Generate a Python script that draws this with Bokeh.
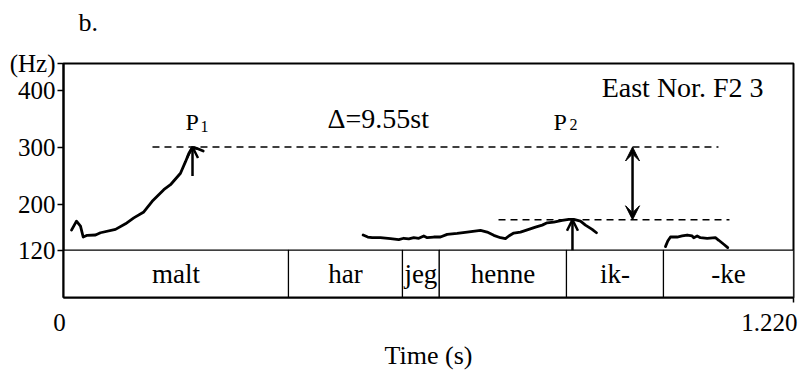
from bokeh.plotting import figure
from bokeh.models import Range1d, FixedTicker, Label, Arrow, OpenHead, VeeHead, ColumnDataSource
from bokeh.embed import file_html
from bokeh.resources import INLINE
from bokeh.core.properties import value

FONT = "Liberation Serif"

# ---------------- data ----------------
# F0 contour on "malt"
t_malt = [0.0134, 0.0217, 0.0284, 0.0329, 0.0396, 0.0535, 0.0618, 0.0869, 0.1036,
          0.1175, 0.1342, 0.1482, 0.1676, 0.1788, 0.1955, 0.2039, 0.2094, 0.2151,
          0.2234, 0.2335]
f_malt = [155.3, 171.0, 162.3, 143.1, 146.1, 146.6, 150.6, 156.5, 166.3,
          176.7, 187.1, 205.7, 226.1, 234.8, 255.0, 275.3, 289.7, 299.7,
          298.4, 293.9]
# F0 contour on "har jeg henne ik-"
t_mid = [0.5008, 0.5085, 0.5159, 0.5297, 0.5465, 0.5603, 0.5687, 0.5771, 0.5854,
         0.5938, 0.6021, 0.6078, 0.6188, 0.6300, 0.6412, 0.6579, 0.6746, 0.6969,
         0.7080, 0.7191, 0.7303, 0.7386, 0.7442, 0.7525, 0.7637, 0.7776, 0.7888,
         0.8000, 0.8083, 0.8194, 0.8334, 0.8445, 0.8528, 0.8640, 0.8723, 0.8835,
         0.8907]
f_mid = [146.6, 143.1, 141.9, 141.9, 140.2, 138.4, 140.9, 139.7, 141.9,
         140.9, 144.9, 141.9, 143.1, 143.1, 147.8, 149.6, 151.8, 154.8,
         151.8, 146.1, 141.9, 140.2, 144.9, 150.1, 151.8, 156.5, 160.5,
         164.0, 168.0, 169.2, 172.2, 173.9, 173.9, 171.0, 164.0, 156.5,
         150.6]
# F0 contour on "-ke"
t_ke = [1.0060, 1.0099, 1.0144, 1.0256, 1.0339, 1.0423, 1.0506, 1.0533, 1.0590,
        1.0645, 1.0757, 1.0895, 1.0951, 1.1034, 1.1101]
f_ke = [126.3, 136.2, 143.1, 143.1, 144.9, 146.6, 144.9, 141.9, 144.9,
        141.9, 140.9, 141.9, 137.4, 130.4, 124.5]

# peaks
p1_time, p1_hz, p1_arrow_from = 0.2156, 301.0, 250.0
p2_time, p2_hz, p2_arrow_from = 0.8506, 173.4, 120.0
p1_line = [0.1487, 1.0946]
p2_line = [0.727, 1.113]
delta_time = 0.951
delta_text = "Δ=9.55st"

# word tier
words = ["malt", "har", "jeg", "henne", "ik-", "-ke"]
word_bounds = [0.0, 0.376, 0.5665, 0.628, 0.8406, 1.0027, 1.22]

# axes
y_ticks = [120, 200, 300, 400]
y_tick_labels = ["120", "200", "300", "400"]
y_unit_label = "(Hz)"
x_ticks = [0.0, 1.22]
x_tick_labels = ["0", "1.220"]
x_min, x_max = 0.0, 1.22
y_min, y_max = 37.0, 447.5
tier_top = 120.0

# ---------------- figure ----------------
p = figure(width=804, height=372, x_range=Range1d(x_min, x_max), y_range=Range1d(y_min, y_max),
           output_backend="svg", toolbar_location=None,
           min_border_left=63, min_border_right=11, min_border_top=61, min_border_bottom=75)
p.grid.visible = False
p.outline_line_color = "black"
p.outline_line_width = 2
p.background_fill_color = "white"
p.border_fill_color = "white"

# y axis (unit label sits at the top of the axis)
ya = p.yaxis[0]
ya.ticker = FixedTicker(ticks=y_ticks + [y_max], minor_ticks=[])
ov = {v: s for v, s in zip(y_ticks, y_tick_labels)}
ov[y_max] = y_unit_label
ya.major_label_overrides = ov
ya.axis_line_color = "black"
ya.axis_line_width = 2
ya.major_tick_in = 0
ya.major_tick_out = 6
ya.major_tick_line_width = 1.5
ya.major_label_standoff = 2
ya.major_label_text_font = FONT
ya.major_label_text_font_size = "25px"
ya.major_label_text_color = "black"

# x axis
xa = p.xaxis[0]
xa.ticker = FixedTicker(ticks=[], minor_ticks=[x_ticks[-1]])
xa.axis_line_color = "black"
xa.axis_line_width = 2
xa.major_tick_in = 0
xa.major_tick_out = 0
xa.minor_tick_in = 0
xa.minor_tick_out = 5
xa.minor_tick_line_width = 1.5
xa.major_label_standoff = 0
xa.axis_label = "Time (s)"
xa.axis_label_text_font = FONT
xa.axis_label_text_font_size = "26px"
xa.axis_label_text_font_style = "normal"
xa.axis_label_text_color = "black"
xa.axis_label_standoff = 38

# labels outside the frame: kept in the (roomy) top side panel so they are not clipped;
# their positions are still given in data coordinates
aligns = ["center", "right"]
offsets = [-4, 4]
for v, s, al, off in zip(x_ticks, x_tick_labels, aligns, offsets):
    p.add_layout(Label(x=v, y=-6.4, text=s, text_align=al, text_baseline="middle", x_offset=off,
                       text_font=FONT, text_font_size="25px", text_color="black"), "above")

p.add_layout(Label(x=0.025, y=520.2, text="b.", text_align="left", text_baseline="middle",
                   text_font=FONT, text_font_size="26px", text_color="black"), "above")

# word tier
p.quad(left=word_bounds[:-1], right=word_bounds[1:], bottom=y_min, top=tier_top,
       fill_color="white", line_color="black", line_width=1.2)
mids = [(a + b) / 2 for a, b in zip(word_bounds[:-1], word_bounds[1:])]
wsrc = ColumnDataSource(dict(x=mids, y=[(y_min + tier_top) / 2] * len(words), text=words))
p.text(x="x", y="y", text="text", source=wsrc, text_align="center", text_baseline="middle",
       text_font=value(FONT), text_font_size=value("27px"), text_color="black")

# contours
for tt, ff in [(t_malt, f_malt), (t_mid, f_mid), (t_ke, f_ke)]:
    p.line(tt, ff, line_color="black", line_width=2.8, line_join="round", line_cap="round")

# dashed reference lines
p.line(p1_line, [p1_hz, p1_hz], line_color="black", line_width=1.6, line_dash="7 5")
p.line(p2_line, [p2_hz, p2_hz], line_color="black", line_width=1.6, line_dash="7 5")

# arrows
p.add_layout(Arrow(end=OpenHead(size=11, line_width=2.5, line_color="black"),
                   x_start=p1_time, y_start=p1_arrow_from, x_end=p1_time, y_end=p1_hz,
                   line_width=2.5, line_color="black"))
p.add_layout(Arrow(end=OpenHead(size=11, line_width=2.5, line_color="black"),
                   x_start=p2_time, y_start=p2_arrow_from, x_end=p2_time, y_end=p2_hz,
                   line_width=2.5, line_color="black"))
p.add_layout(Arrow(start=VeeHead(size=14, fill_color="black", line_color="black"),
                   end=VeeHead(size=14, fill_color="black", line_color="black"),
                   x_start=delta_time, y_start=p2_hz, x_end=delta_time, y_end=p1_hz,
                   line_width=2.5, line_color="black"))

# text annotations inside the frame
def lab(x, y, text, size, align="left"):
    p.add_layout(Label(x=x, y=y, text=text, text_align=align, text_baseline="middle",
                       text_font=FONT, text_font_size=size, text_color="black"))

lab(1.1698, 404.9, "East Nor. F2 3", "28px", align="right")
lab(0.4412, 351.8, delta_text, "28px")
lab(0.2039, 344.9, "P", "24px")
lab(0.2290, 336.2, "1", "16px")
lab(0.8189, 344.9, "P", "24px")
lab(0.8456, 339.7, "2", "16px")

open("out.html", "w").write(file_html(p, INLINE))
